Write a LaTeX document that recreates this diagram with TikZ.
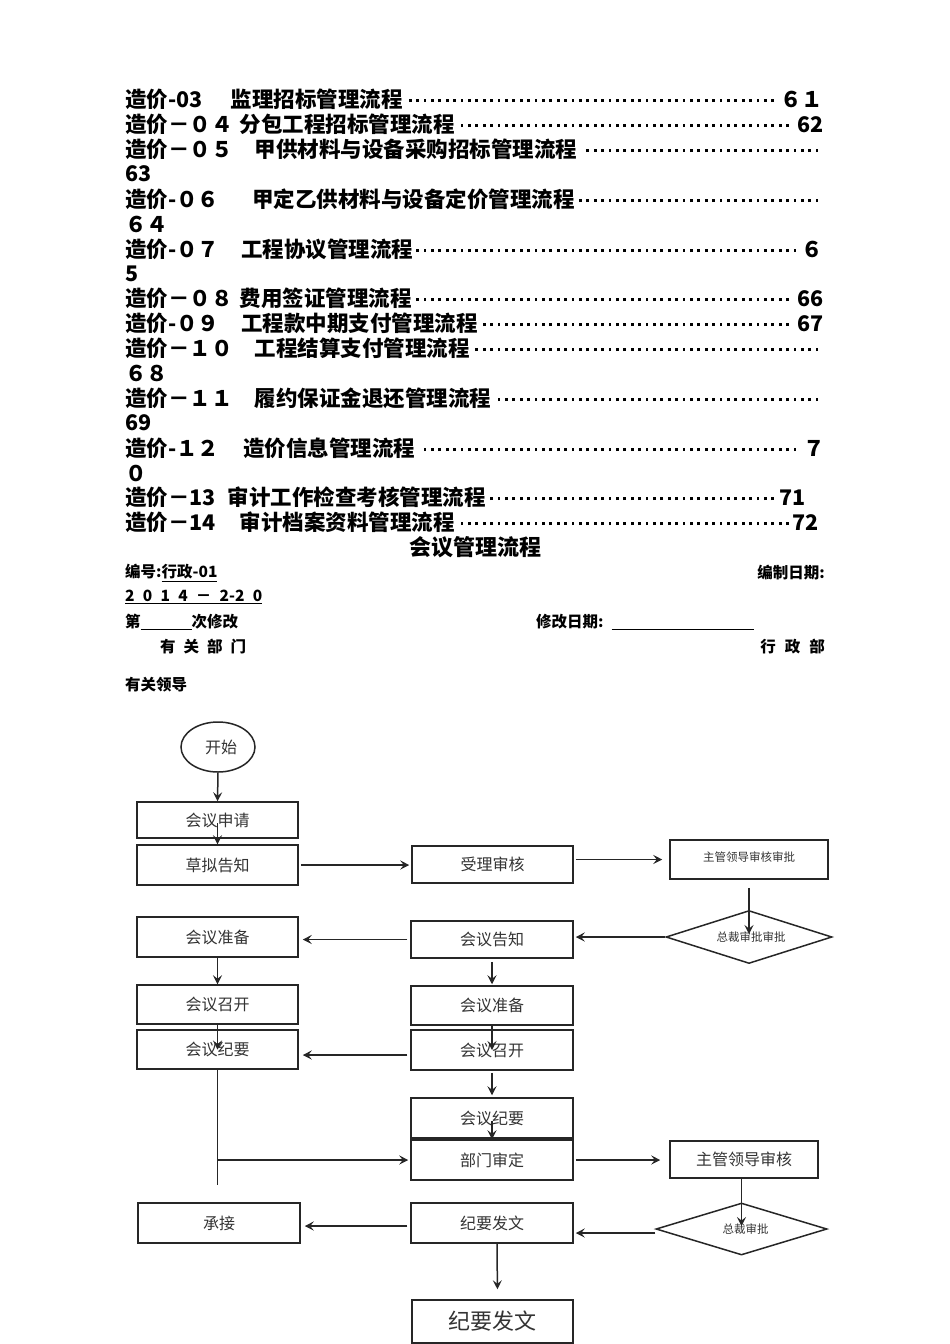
\documentclass[tikz,border=0pt]{standalone}
\usepackage{fontspec}
\setmainfont{Noto Sans CJK SC}
\usetikzlibrary{arrows.meta,shapes.geometric}
\newcommand\tocdots{\leaders\hbox to 7.4pt{\hss\rule[5pt]{2.8pt}{2.8pt}\hss}\hfill}
\newcommand\tocl[4]{\node[toc] (#1) at (125,#2) {\hbox to #3pt{#4}};}
\begin{document}
\begin{tikzpicture}[x=1pt,y=-1pt,
 toc/.style={anchor=west,inner sep=0,font=\bfseries\fontsize{21.5}{22}\selectfont},
 hdr/.style={inner sep=0,font=\bfseries\fontsize{15.5}{16}\selectfont},
 box/.style={draw=black!85,line width=1.5pt,inner sep=0,minimum width=161pt,minimum height=40pt,font=\fontsize{16}{16}\selectfont,text=black!80},
 dia/.style={draw=black!85,line width=1.5pt,diamond,shape aspect=3,inner sep=0,font=\fontsize{11.5}{12}\selectfont,text=black!80},
 arr/.style={draw=black!85,line width=1.5pt,-{Stealth[length=9pt,width=9pt,inset=3.5pt]}},
 ln/.style={draw=black!85,line width=1.5pt}]
\useasboundingbox (0,0) rectangle (950,1344);

% table of contents
\tocl{t1}{99}{698}{造价-03\hspace{28pt}监理招标管理流程\tocdots ６１}
\tocl{t2}{124}{698}{造价－０４\hspace{7pt}分包工程招标管理流程\tocdots 62}
\tocl{t3}{149}{698}{造价－０５\hspace{22pt}甲供材料与设备采购招标管理流程\tocdots}
\tocl{t4}{174}{24}{63\hfil}
\tocl{t5}{199}{698}{造价-０６\hspace{33pt}甲定乙供材料与设备定价管理流程\tocdots}
\tocl{t6}{224}{44}{６４\hfil}
\tocl{t7}{249}{698}{造价-０７\hspace{22pt}工程协议管理流程\tocdots ６}
\tocl{t8}{274}{12}{5\hfil}
\tocl{t9}{298}{698}{造价－０８\hspace{7pt}费用签证管理流程\tocdots 66}
\tocl{t10}{323}{698}{造价-０９\hspace{22pt}工程款中期支付管理流程\tocdots 67}
\tocl{t11}{348}{698}{造价－１０\hspace{22pt}工程结算支付管理流程\tocdots}
\tocl{t12}{373}{44}{６８\hfil}
\tocl{t13}{398}{698}{造价－１１\hspace{22pt}履约保证金退还管理流程\tocdots}
\tocl{t14}{423}{24}{69\hfil}
\tocl{t15}{448}{700}{造价-１２\hspace{24pt}造价信息管理流程\tocdots ７}
\tocl{t16}{473}{22}{０\hfil}
\tocl{t17}{497}{680}{造价－13\hspace{12pt}审计工作检查考核管理流程\tocdots 71}
\tocl{t18}{522}{693}{造价－14\hspace{24pt}审计档案资料管理流程\tocdots 72}

% title and header
\node[inner sep=0,font=\bfseries\fontsize{22}{22}\selectfont] (title) at (475,547) {会议管理流程};
\node[hdr,anchor=west] (code) at (125,573) {编号:\underline{行政-01}};
\node[hdr,anchor=east] (cdate) at (825,573) {编制日期:};
\node[hdr,anchor=west] (date) at (125,597) {\underline{\hbox to 137pt{2\hfil 0\hfil 1\hfil 4\hfil －\hfil 2-2\hfil 0}}};
\node[hdr,anchor=west] (rev) at (125,622) {第\underline{\hspace{51pt}}次修改};
\node[hdr,anchor=west] (mdate) at (536,622) {修改日期:\hspace{8pt}\underline{\hspace{142pt}}};
\node[hdr,anchor=west] (dept1) at (160,647) {有\hspace{8pt}关\hspace{8pt}部\hspace{8pt}门};
\node[hdr,anchor=east] (dept2) at (825,647) {行\hspace{9pt}政\hspace{9pt}部};
\node[hdr,anchor=west] (lead) at (125,685) {有关领导};

% flowchart nodes
\node[draw=black!85,line width=1.5pt,ellipse,minimum width=74pt,minimum height=50pt,inner sep=0,font=\fontsize{16}{16}\selectfont,text=black!80] (start) at (218,747) {\hspace{6pt}开始};
\node[box,minimum height=36pt] (req) at (217.5,820) {会议申请};
\node[box] (draft) at (217.5,865) {草拟告知};
\node[box,minimum height=37pt] (accept) at (492.5,864.5) {受理审核};
\node[box,minimum width=158pt,minimum height=39pt,font=\fontsize{11.5}{12}\selectfont] (lead1) at (749,859.5) {\raisebox{5pt}{主管领导审核审批}};
\node[dia,minimum width=166pt,minimum height=53pt] (pres1) at (749,937) {\hspace{4pt}总裁审批审批};
\node[box,minimum width=162pt,minimum height=37pt] (cnote) at (492,939.5) {会议告知};
\node[box] (prep1) at (217.5,937) {会议准备};
\node[box,minimum height=39pt] (hold1) at (217.5,1004.5) {会议召开};
\node[box,minimum height=39pt] (min1) at (217.5,1049.5) {会议纪要};
\node[box,minimum width=162pt,minimum height=39pt] (prep2) at (492,1005.5) {会议准备};
\node[box,minimum width=162pt] (hold2) at (492,1050) {会议召开};
\node[box,minimum width=162pt] (min2) at (492,1118) {会议纪要};
\node[box,minimum width=162pt] (dept) at (492,1160) {部门审定};
\node[box,minimum width=148pt,minimum height=37pt] (lead2) at (744,1159.5) {主管领导审核};
\node[dia,minimum width=171pt,minimum height=52pt] (pres2) at (741.5,1229) {\hspace{8pt}总裁审批};
\node[box,minimum width=162pt] (pub) at (492,1223) {纪要发文};
\node[box,minimum width=162pt] (take) at (219,1223) {承接};
\node[box,minimum height=43pt,font=\fontsize{22}{22}\selectfont] (final) at (492.5,1321.5) {纪要发文};
\coordinate (lend) at (217.5,1185);

% connectors
\draw[arr] (start.south) -- (req.north);
\draw[arr] ([yshift=-3pt]req.center) -- (draft.north);
\draw[arr,shorten <=2pt,shorten >=2pt] (draft.east) -- (draft.east -| accept.west);
\draw[arr,shorten <=2pt,shorten >=7pt] (accept.east |- lead1.west) -- (lead1.west);
\draw[arr,shorten <=8pt,shorten >=3pt] (pres1.center |- lead1.south) -- (pres1.center);
\draw[arr,shorten >=2pt] (pres1.west) -- (pres1.west -| cnote.east);
\draw[arr,shorten <=3pt,shorten >=4pt] (cnote.west) -- (cnote.west -| prep1.east);
\draw[arr] (prep1.south) -- (hold1.north);
\draw[arr,shorten <=3pt,shorten >=1pt] (cnote.south) -- (prep2.north);
\draw[arr] (hold1.south) -- (min1.center);
\draw[arr] (prep2.south) -- (hold2.center);
\draw[arr,shorten <=3pt,shorten >=4pt] ([yshift=-5pt]hold2.west) -- ([yshift=-5pt]hold2.west -| min1.east);
\draw[arr,shorten <=2pt,shorten >=2pt] (hold2.south) -- (min2.north);
\draw[arr] ([yshift=-3pt]min2.center) -- (dept.north);
\draw[ln] (min1.south) -- (lend);
\draw[arr,shorten >=2pt] (min1.south |- dept.west) -- (dept.west);
\draw[arr,shorten <=2pt,shorten >=9pt] (dept.east) -- (dept.east -| lead2.west);
\draw[arr,shorten >=3pt] (pres2.center |- lead2.south) -- (pres2.center);
\draw[arr,shorten >=2pt] ([yshift=-4pt]pres2.west) -- ([yshift=-4pt]pres2.west -| pub.east);
\draw[arr,shorten <=3pt,shorten >=4pt] ([yshift=-3pt]pub.west) -- ([yshift=-3pt]pub.west -| take.east);
\draw[arr,shorten >=10pt] ([xshift=5pt]pub.south) -- ([xshift=5pt]final.north);
\end{tikzpicture}
\end{document}
